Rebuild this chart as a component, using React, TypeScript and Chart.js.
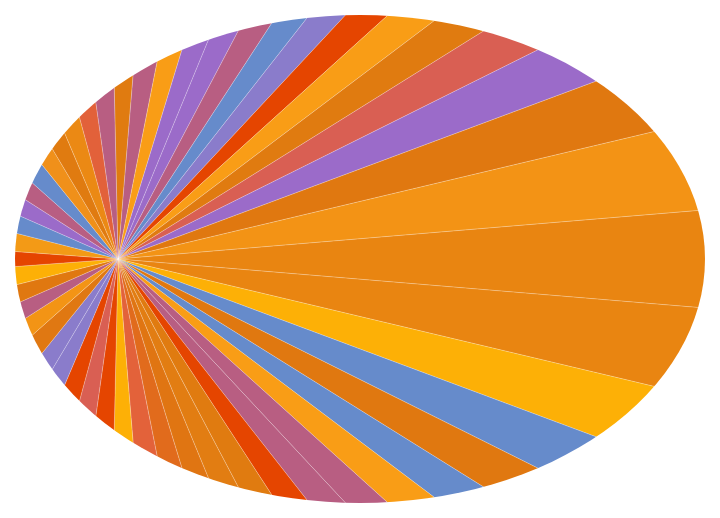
import React, { useEffect, useRef } from "react";
import { Chart, registerables } from "chart.js";

Chart.register(...registerables);

// Slice labels (52 items, clockwise from the top)
const labels: string[] = Array.from({ length: 52 }, (_, i) => `Item ${i + 1}`);

// Slice values (angular share of each slice)
const values: number[] = [
  5.97, 6.52, 5.78, 5.43, 5.37, 5.3, 5.0, 4.9, 4.9, 5.1, 5.05, 5.47, 6.08, 7.03, 8.59,
  9.56,
  8.59, 7.03, 6.08, 5.47, 5.05, 5.1, 4.9, 4.9, 5.0, 5.3, 5.37, 5.43, 5.78, 6.52, 5.97,
  6.78, 7.15, 7.77, 7.83, 8.1, 9.5, 9.0, 8.9, 9.5, 10.0,
  8.4,
  10.0, 9.5, 8.9, 9.0, 9.5, 8.1, 7.83, 7.77, 7.15, 6.78,
];

// Slice colours
const sliceColors: string[] = [
  "#E07B10", "#B85E82", "#F99D16", "#9B6BC9", "#9B6BC9", "#B85E82", "#668BCB", "#8A7CCB",
  "#E54500", "#F99D16", "#E07B10", "#D95F53", "#9B6BC9", "#E07810", "#F39315", "#E98511",
  "#E98511", "#FDB006", "#668BCB", "#E07810", "#668BCB", "#F99D16", "#B85E82", "#B85E82",
  "#E54500", "#E07B10", "#E27D12", "#E07512", "#E16B1C", "#E3623A", "#FDB006", "#E54500",
  "#D95F53", "#E54500", "#8A7CCB", "#8A7CCB", "#E07812", "#F39415", "#B85E82", "#E07810",
  "#FDB006", "#E54500", "#F39A16", "#668BCB", "#9B6BC9", "#B85E82", "#668BCB", "#F0901A",
  "#E07B10", "#EB8914", "#E2613A", "#B85E82",
];

// Horizontal position of the fan's vertex inside the ellipse (-1 = left edge, 1 = right edge)
const VERTEX_OFFSET = -0.7014;

const ellipseFanPlugin = {
  id: "ellipseFan",
  afterDatasetsUpdate(chart: any) {
    const { left, right, top, bottom } = chart.chartArea;
    const cx = (left + right) / 2;
    const cy = (top + bottom) / 2;
    const a = (right - left) / 2;
    const px = cx + VERTEX_OFFSET * a;
    const meta = chart.getDatasetMeta(0);
    meta.data.forEach((el: any) => {
      el.x = px;
      el.y = cy;
      el.innerRadius = 0;
      el.outerRadius = (right - left) * 2;
    });
  },
  beforeDatasetsDraw(chart: any) {
    const { left, right, top, bottom } = chart.chartArea;
    const ctx = chart.ctx;
    ctx.save();
    ctx.beginPath();
    ctx.ellipse((left + right) / 2, (top + bottom) / 2, (right - left) / 2, (bottom - top) / 2, 0, 0, Math.PI * 2);
    ctx.clip();
  },
  afterDatasetsDraw(chart: any) {
    chart.ctx.restore();
  },
};

export default function App() {
  const canvasRef = useRef<HTMLCanvasElement | null>(null);

  useEffect(() => {
    if (!canvasRef.current) return;
    const chart = new Chart(canvasRef.current, {
      type: "pie",
      data: {
        labels,
        datasets: [
          {
            data: values,
            backgroundColor: sliceColors,
            borderColor: "rgba(255,255,255,0.28)",
            borderWidth: 0.8,
            clip: false as any,
          },
        ],
      },
      options: {
        animation: false,
        responsive: true,
        maintainAspectRatio: false,
        rotation: -1.27,
        events: [],
        layout: { padding: { left: 7, right: 7, top: 7, bottom: 7 } },
        plugins: {
          legend: { display: false },
          tooltip: { enabled: false },
        },
      },
      plugins: [ellipseFanPlugin],
    });
    return () => chart.destroy();
  }, []);

  return (
    <div style={{ position: "relative", width: 704, height: 502 }}>
      <canvas ref={canvasRef} />
    </div>
  );
}
